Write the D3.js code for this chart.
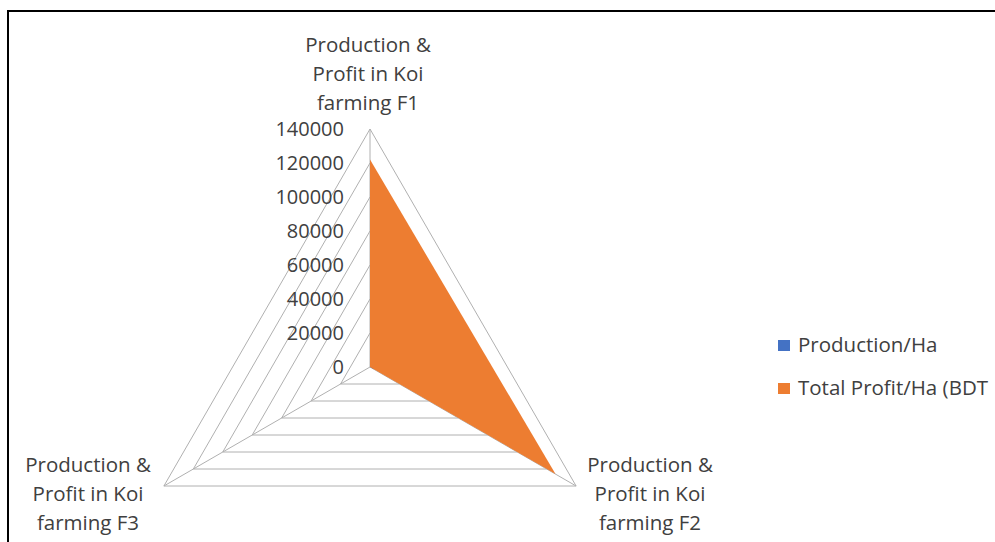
<!DOCTYPE html>
<html>
<head>
<meta charset="utf-8">
<script src="https://cdn.jsdelivr.net/npm/d3@7"></script>
<style>
  html, body { margin: 0; padding: 0; background: #fff; }
  svg { display: block; }
</style>
</head>
<body>
<svg id="chart" width="995" height="542"></svg>
<script>
// ---- data ----
const categories = [
  ["Production &", "Profit in Koi", "farming F1"],
  ["Production &", "Profit in Koi", "farming F2"],
  ["Production &", "Profit in Koi", "farming F3"]
];
const seriesNames = ["Production/Ha", "Total Profit/Ha (BDT"];
const productionValues = [2800, 3000, 0];
const profitValues = [122000, 126000, 0];
const tickValues = [0, 20000, 40000, 60000, 80000, 100000, 120000, 140000];
const seriesColors = ["#4472C4", "#ED7D31"];

// ---- layout ----
const svg = d3.select("#chart");
const font = "'Open Sans', Lato, sans-serif";
const cx = 370, cy = 367, R = 238;

svg.append("rect").attr("x", 8).attr("y", 11).attr("width", 1100).attr("height", 600)
  .attr("fill", "none").attr("stroke", "#000").attr("stroke-width", 2);

const r = d3.scaleLinear().domain([0, 140000]).range([0, R]);
const angle = d3.scaleLinear().domain([0, categories.length]).range([0, 2 * Math.PI]);
const pt = (i, v) => {
  const a = angle(i);
  return [cx + r(v) * Math.sin(a), cy - r(v) * Math.cos(a)];
};

const grid = svg.append("g");
tickValues.filter(t => t > 0).forEach(t => {
  grid.append("polygon")
    .attr("points", categories.map((c, i) => pt(i, t).join(",")).join(" "))
    .attr("fill", "none").attr("stroke", "#b0b0b0").attr("stroke-width", 1);
});
categories.forEach((c, i) => {
  const p = pt(i, 140000);
  grid.append("line").attr("x1", cx).attr("y1", cy).attr("x2", p[0]).attr("y2", p[1])
    .attr("stroke", "#b0b0b0").attr("stroke-width", 1);
});

// series
const line = d3.lineRadial().angle((d, i) => angle(i)).radius(d => r(d)).curve(d3.curveLinearClosed);
[productionValues, profitValues].forEach((vals, s) => {
  svg.append("path")
    .attr("transform", `translate(${cx},${cy})`)
    .attr("d", line(vals))
    .attr("fill", seriesColors[s]).attr("stroke", "none");
});

// tick labels
svg.append("g").selectAll("text").data(tickValues).join("text")
  .attr("x", 344).attr("y", d => cy - r(d))
  .attr("dy", "0.36em")
  .attr("text-anchor", "end")
  .attr("font-family", font).attr("font-size", 20).attr("fill", "#404040")
  .text(d => d);

// category labels
const labelPos = [
  { x: 368, y: 51.5 },
  { x: 650, y: 471.5 },
  { x: 88, y: 471.5 }
];
categories.forEach((lines, i) => {
  const t = svg.append("text")
    .attr("text-anchor", "middle")
    .attr("font-family", font).attr("font-size", 20.5).attr("fill", "#404040");
  lines.forEach((l, j) => {
    t.append("tspan").attr("x", labelPos[i].x).attr("y", labelPos[i].y + j * 29).text(l);
  });
});

// legend
const legend = svg.append("g");
seriesNames.forEach((n, i) => {
  const y = 345 + i * 43;
  legend.append("rect").attr("x", 778).attr("y", y - 5).attr("width", 12).attr("height", 11)
    .attr("fill", seriesColors[i]);
  legend.append("text").attr("x", 798).attr("y", y).attr("dy", "0.36em")
    .attr("font-family", font).attr("font-size", 20.5).attr("fill", "#404040").text(n);
});
</script>
</body>
</html>
